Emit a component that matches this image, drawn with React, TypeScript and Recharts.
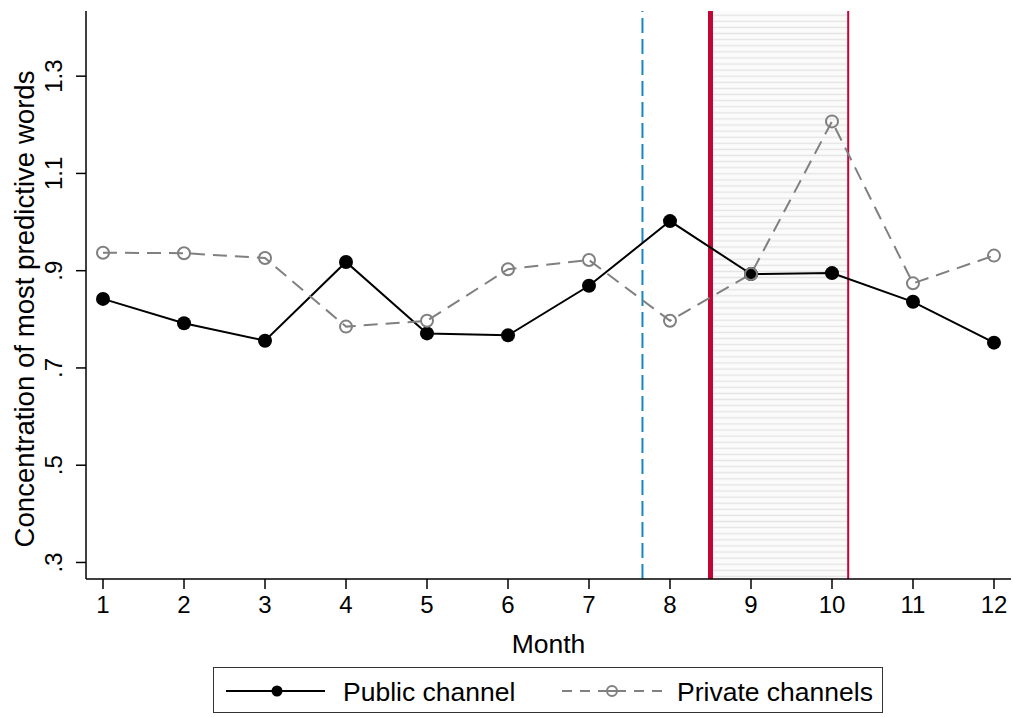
import { LineChart, Line, XAxis, YAxis, ReferenceLine, ReferenceArea, Label } from 'recharts';

const months = [1, 2, 3, 4, 5, 6, 7, 8, 9, 10, 11, 12];
const publicChannel = [0.842, 0.792, 0.756, 0.918, 0.771, 0.767, 0.869, 1.002, 0.893, 0.895, 0.836, 0.752];
const privateChannels = [0.937, 0.936, 0.926, 0.785, 0.797, 0.903, 0.922, 0.797, 0.893, 1.207, 0.874, 0.931];
const yTicks = [0.3, 0.5, 0.7, 0.9, 1.1, 1.3];

// event markers (month units)
const announceLine = 7.66;
const periodStart = 8.5;
const periodEnd = 10.2;

const FONT = '"Liberation Sans", Arial, Helvetica, sans-serif';
const GRAY = '#808080';
const RED = '#c10534';
const BLUE = '#1a86c0';

const data = months.map((m, i) => ({ month: m, pub: publicChannel[i], priv: privateChannels[i] }));

const fmtY = (v: number) => (v < 1 ? v.toFixed(1).replace('0.', '.') : v.toFixed(1));

const YTick = ({ x, y, payload }: any) => (
  <text
    transform={`translate(${x}, ${y}) rotate(-90)`}
    textAnchor="middle"
    fontSize={24}
    fontFamily={FONT}
    fill="#000"
  >
    {fmtY(payload.value)}
  </text>
);

function ChartLegend() {
  return (
    <div
      style={{
        position: 'absolute',
        left: 213,
        top: 667,
        width: 670,
        height: 46,
        border: '1.5px solid #333',
        boxSizing: 'border-box',
        fontFamily: FONT,
        fontSize: 26.5,
        color: '#000',
      }}
    >
      <svg width={667} height={43} style={{ position: 'absolute', left: 0, top: 0 }}>
        <line x1={12} x2={111} y1={23} y2={23} stroke="#000" strokeWidth={2} />
        <circle cx={63} cy={23} r={5.5} fill="#000" />
        <line x1={348} x2={451} y1={23} y2={23} stroke={GRAY} strokeWidth={2} strokeDasharray="10 8" />
        <circle cx={398} cy={23} r={5} fill="#fff" stroke={GRAY} strokeWidth={2} />
        <line x1={393} x2={403} y1={23} y2={23} stroke={GRAY} strokeWidth={2} />
        <text x={129} y={33} fontSize={26.5} fontFamily={FONT} fill="#000">Public channel</text>
        <text x={463} y={33} fontSize={26.5} fontFamily={FONT} fill="#000">Private channels</text>
      </svg>
    </div>
  );
}

export default function App() {
  return (
    <div style={{ position: 'absolute', left: 0, top: 0, width: 1013, height: 717, background: '#fff' }}>
      <LineChart width={1013} height={717} data={data} margin={{ top: 11, right: 2, left: 0, bottom: 0 }}>
        <defs>
          <pattern id="hatch" patternUnits="userSpaceOnUse" width={12} height={6.1}>
            <rect width={12} height={6.1} fill="#fbfbfb" />
            <line x1={0} x2={12} y1={3} y2={3} stroke="#e4e4e4" strokeWidth={1.3} />
          </pattern>
        </defs>
        <XAxis
          dataKey="month"
          type="number"
          domain={[0.79, 12.21]}
          ticks={months}
          allowDataOverflow
          height={138}
          tickSize={10}
          tickMargin={7}
          axisLine={{ stroke: '#000', strokeWidth: 1.5 }}
          tickLine={{ stroke: '#000', strokeWidth: 1.5 }}
          tick={{ fontSize: 24, fontFamily: FONT, fill: '#000' }}
        >
          <Label value="Month" position="insideTop" offset={55} fontSize={26.5} fontFamily={FONT} fill="#000" />
        </XAxis>
        <YAxis
          type="number"
          domain={[0.266, 1.434]}
          ticks={yTicks}
          allowDataOverflow
          width={86}
          tickSize={10}
          tickMargin={14}
          axisLine={{ stroke: '#000', strokeWidth: 1.5 }}
          tickLine={{ stroke: '#000', strokeWidth: 1.5 }}
          tick={<YTick />}
        >
          <Label
            content={({ viewBox }: any) => (
              <text
                transform={`translate(${viewBox.x + 34}, ${viewBox.y + viewBox.height / 2 + 14}) rotate(-90)`}
                textAnchor="middle"
                fontSize={27.6}
                fontFamily={FONT}
                fill="#000"
              >
                Concentration of most predictive words
              </text>
            )}
          />
        </YAxis>
        <ReferenceArea x1={periodStart} x2={periodEnd} fill="url(#hatch)" fillOpacity={1} stroke="none" />
        <ReferenceLine x={announceLine} stroke={BLUE} strokeWidth={2} strokeDasharray="15 6" />
        <ReferenceLine x={periodStart} stroke={RED} strokeWidth={5} />
        <ReferenceLine x={periodEnd} stroke={RED} strokeWidth={2} />
        <Line
          dataKey="pub"
          type="linear"
          stroke="#000"
          strokeWidth={2}
          dot={{ r: 7, fill: '#000', stroke: 'none' }}
          activeDot={false}
          isAnimationActive={false}
        />
        <Line
          dataKey="priv"
          type="linear"
          stroke={GRAY}
          strokeWidth={2}
          strokeDasharray="14 8"
          dot={{ r: 6, fill: 'none', stroke: GRAY, strokeWidth: 2, strokeDasharray: '' }}
          activeDot={false}
          isAnimationActive={false}
        />
      </LineChart>
      <ChartLegend />
    </div>
  );
}
